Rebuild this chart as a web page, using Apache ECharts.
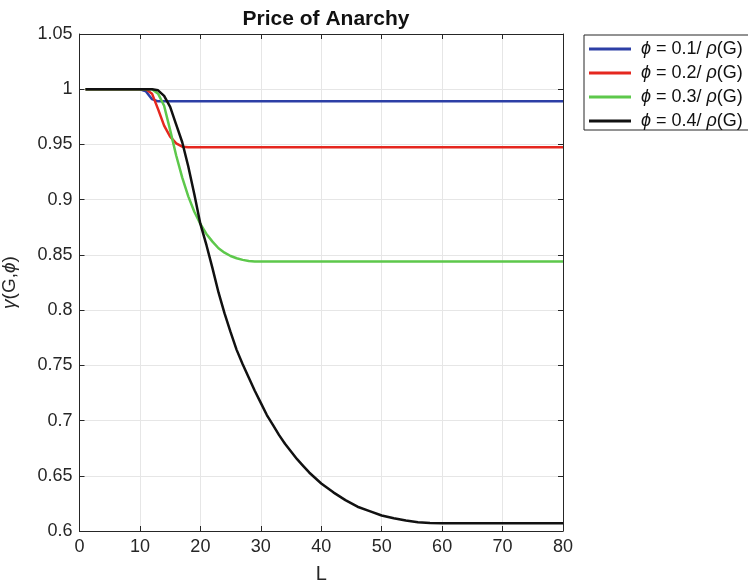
<!DOCTYPE html>
<html>
<head>
<meta charset="utf-8">
<script src="https://cdn.jsdelivr.net/npm/echarts@6/dist/echarts.min.js"></script>
<style>html,body{margin:0;padding:0;background:#fff}#c{width:748px;height:585px}</style>
</head>
<body>
<div id="c"></div>
<script>
// ---- data ----
const seriesNames = ['ϕ = 0.1/ ρ(G)', 'ϕ = 0.2/ ρ(G)', 'ϕ = 0.3/ ρ(G)', 'ϕ = 0.4/ ρ(G)'];
const blueL  = [1, 10, 11, 12, 13, 80];
const blueG  = [1, 1, 0.998, 0.991, 0.989, 0.989];
const redL   = [1, 11, 12, 13, 14, 15, 16, 17, 18, 80];
const redG   = [1, 1, 0.996, 0.982, 0.967, 0.957, 0.951, 0.948, 0.9475, 0.9475];
const greenL = [1, 12, 13, 14, 15, 16, 17, 18, 19, 20, 21, 22, 23, 24, 25, 26, 27, 28, 29, 80];
const greenG = [1, 1, 0.996, 0.985, 0.963, 0.94, 0.92, 0.903, 0.889, 0.878, 0.869, 0.862, 0.856, 0.852, 0.849, 0.847, 0.8455, 0.8445, 0.844, 0.844];
const blackL = [1, 12, 13, 14, 15, 16, 17, 18, 19, 20, 21, 22, 23, 24, 25, 26, 27, 28, 29, 30, 31, 32, 33, 34, 35, 36, 37, 38, 39, 40, 42, 44, 46, 48, 50, 52, 54, 56, 58, 60, 80];
const blackG = [1, 1, 0.999, 0.994, 0.984, 0.968, 0.952, 0.93, 0.905, 0.878, 0.859, 0.838, 0.816, 0.797, 0.78, 0.764, 0.751, 0.739, 0.727, 0.716, 0.705, 0.696, 0.687, 0.679, 0.672, 0.665, 0.659, 0.653, 0.648, 0.643, 0.635, 0.628, 0.622, 0.618, 0.614, 0.6115, 0.6095, 0.608, 0.6072, 0.607, 0.607];
const xTicks = {min: 0, max: 80, interval: 10};
const yTicks = {min: 0.6, max: 1.05, interval: 0.05};

const colors = ['#2c3fa6', '#e5271f', '#5dc84b', '#111111'];
const pairs = [[blueL, blueG], [redL, redG], [greenL, greenG], [blackL, blackG]];
const font = '"Liberation Sans", Arial, Helvetica, sans-serif';
const axisColor = '#262626';

function mkX(pos, labels) {
  return {
    type: 'value', position: pos, min: xTicks.min, max: xTicks.max, interval: xTicks.interval,
    axisLine: {show: true, onZero: false, lineStyle: {color: axisColor, width: 1}},
    axisTick: {show: true, inside: true, length: 5, lineStyle: {color: axisColor}},
    axisLabel: {show: labels, color: axisColor, fontSize: 18, fontFamily: font, margin: 7},
    splitLine: {show: labels, lineStyle: {color: '#e6e6e6', width: 1}},
    name: labels ? 'L' : '', nameLocation: 'middle', nameGap: 33,
    nameTextStyle: {color: axisColor, fontSize: 20, fontFamily: font}
  };
}
function mkY(pos, labels) {
  return {
    type: 'value', position: pos, min: yTicks.min, max: yTicks.max, interval: yTicks.interval,
    axisLine: {show: true, onZero: false, lineStyle: {color: axisColor, width: 1}},
    axisTick: {show: true, inside: true, length: 5, lineStyle: {color: axisColor}},
    axisLabel: {show: labels, color: axisColor, fontSize: 18, fontFamily: font, margin: 7,
      formatter: v => String(+v.toFixed(2))},
    splitLine: {show: labels, lineStyle: {color: '#e6e6e6', width: 1}},
    name: labels ? '{i|γ}(G,{i|ϕ})' : '', nameLocation: 'middle', nameGap: 60, nameRotate: 90,
    nameTextStyle: {color: axisColor, fontSize: 19, fontFamily: font,
      rich: {i: {fontStyle: 'italic', fontSize: 19, fontFamily: font, color: axisColor}}}
  };
}

const chart = echarts.init(document.getElementById('c'), null, {renderer: 'canvas'});
chart.setOption({
  animation: false,
  backgroundColor: '#fff',
  title: {
    text: 'Price of Anarchy', left: 321, top: 4, textAlign: 'center',
    textStyle: {fontSize: 21, fontWeight: 'bold', color: '#111', fontFamily: font}
  },
  grid: {left: 79.5, top: 34, right: 185, bottom: 54, containLabel: false, outerBoundsMode: 'none'},
  xAxis: [mkX('bottom', true), mkX('top', false)],
  yAxis: [mkY('left', true), mkY('right', false)],
  legend: {
    left: 584, top: 35, orient: 'vertical',
    backgroundColor: '#fff', borderColor: axisColor, borderWidth: 1,
    padding: [5, 10, 0, 5], itemGap: 6, itemWidth: 42, itemHeight: 3, icon: 'rect',
    data: seriesNames,
    textStyle: {fontSize: 18, lineHeight: 18, color: '#111', fontFamily: font, padding: [0, 0, 0, 5],
      rich: {i: {fontStyle: 'italic', fontSize: 18, lineHeight: 18, fontFamily: font, color: '#111'}}},
    formatter: n => n.replace('ϕ', '{i|ϕ}').replace('ρ', '{i|ρ}')
  },
  series: pairs.map((p, k) => ({
    name: seriesNames[k], type: 'line', xAxisIndex: 0, yAxisIndex: 0,
    data: p[0].map((x, i) => [x, p[1][i]]),
    showSymbol: false, symbol: 'none', smooth: false,
    lineStyle: {color: colors[k], width: 2.5},
    itemStyle: {color: colors[k]},
    z: 2 + k
  }))
});
</script>
</body>
</html>
